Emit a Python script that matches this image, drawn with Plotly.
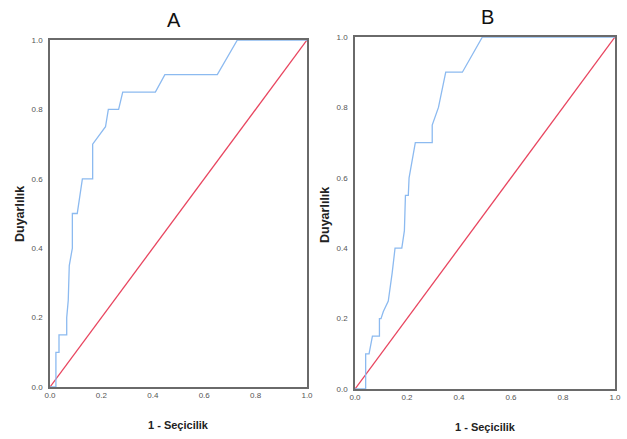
import plotly.graph_objects as go

# Panel A ROC curve (1 - specificity, sensitivity)
a_fpr = [0.0, 0.023, 0.023, 0.035, 0.035, 0.065, 0.065, 0.071, 0.075, 0.087, 0.087, 0.106,
         0.126, 0.166, 0.166, 0.216, 0.227, 0.267, 0.283, 0.41, 0.447, 0.651, 0.729, 1.0]
a_tpr = [0.0, 0.0, 0.1, 0.1, 0.15, 0.15, 0.2, 0.25, 0.35, 0.4, 0.5, 0.5,
         0.6, 0.6, 0.7, 0.75, 0.8, 0.8, 0.85, 0.85, 0.9, 0.9, 1.0, 1.0]

# Panel B ROC curve
b_fpr = [0.0, 0.041, 0.041, 0.054, 0.067, 0.094, 0.094, 0.1, 0.109, 0.128, 0.143, 0.154,
         0.18, 0.19, 0.192, 0.194, 0.205, 0.208, 0.232, 0.297, 0.297, 0.321, 0.349, 0.413, 0.49, 1.0]
b_tpr = [0.0, 0.0, 0.1, 0.1, 0.15, 0.15, 0.2, 0.2, 0.22, 0.25, 0.33, 0.4,
         0.4, 0.45, 0.5, 0.55, 0.55, 0.6, 0.7, 0.7, 0.75, 0.8, 0.9, 0.9, 1.0, 1.0]

ref_line = [0.0, 1.0]
tick_vals = [0.0, 0.2, 0.4, 0.6, 0.8, 1.0]
tick_text = ["0.0", "0.2", "0.4", "0.6", "0.8", "1.0"]
titles = ["A", "B"]
x_title = "1 - Seçicilik"
y_title = "Duyarlılık"

W, H = 627, 439
BLUE = "#8cbaf0"
RED = "#e8455f"
FONT = "Liberation Sans, Arial, sans-serif"

fig = go.Figure()

# reference diagonals first, ROC curves on top
fig.add_trace(go.Scatter(x=ref_line, y=ref_line, mode="lines",
                         line=dict(color=RED, width=1.3), xaxis="x", yaxis="y", showlegend=False))
fig.add_trace(go.Scatter(x=a_fpr, y=a_tpr, mode="lines",
                         line=dict(color=BLUE, width=1.3), xaxis="x", yaxis="y", showlegend=False))
fig.add_trace(go.Scatter(x=ref_line, y=ref_line, mode="lines",
                         line=dict(color=RED, width=1.3), xaxis="x2", yaxis="y2", showlegend=False))
fig.add_trace(go.Scatter(x=b_fpr, y=b_tpr, mode="lines",
                         line=dict(color=BLUE, width=1.3), xaxis="x2", yaxis="y2", showlegend=False))

# pixel boxes of the two plot areas: (left, right, top, bottom)
boxA = (50, 307, 40, 387)
boxB = (355, 615, 37, 389)


def dom(box):
    l, r, t, b = box
    return [l / W, r / W], [1 - b / H, 1 - t / H]


axis_common = dict(range=[0, 1], tickvals=tick_vals, ticktext=tick_text,
                   showgrid=False, zeroline=False, showline=True, mirror=True,
                   linecolor="#6a6a6a", linewidth=1.6, ticks="", automargin=False,
                   tickfont=dict(family=FONT, size=8, color="#555555"))

xdA, ydA = dom(boxA)
xdB, ydB = dom(boxB)
fig.update_layout(
    width=W, height=H,
    margin=dict(l=0, r=0, t=0, b=0, pad=0, autoexpand=False),
    paper_bgcolor="white", plot_bgcolor="white",
    xaxis=dict(domain=xdA, anchor="y", **axis_common),
    yaxis=dict(domain=ydA, anchor="x", ticklabelstandoff=4, **axis_common),
    xaxis2=dict(domain=xdB, anchor="y2", **axis_common),
    yaxis2=dict(domain=ydB, anchor="x2", ticklabelstandoff=4, **axis_common),
)

ann = []
for (cx, cy), t in zip([(174, 20), (487, 17)], titles):
    ann.append(dict(x=cx / W, y=1 - cy / H, xref="paper", yref="paper", text=t, showarrow=False,
                    font=dict(family=FONT, size=20, color="#111111"), xanchor="center", yanchor="middle"))
for cx, cy in [(178, 425), (485, 427)]:
    ann.append(dict(x=cx / W, y=1 - cy / H, xref="paper", yref="paper", text="<b>" + x_title + "</b>",
                    showarrow=False, font=dict(family=FONT, size=11, color="#222222"),
                    xanchor="center", yanchor="middle"))
for cx, cy in [(20, 214), (325, 215)]:
    ann.append(dict(x=cx / W, y=1 - cy / H, xref="paper", yref="paper", text="<b>" + y_title + "</b>",
                    showarrow=False, textangle=-90, font=dict(family=FONT, size=12.5, color="#222222"),
                    xanchor="center", yanchor="middle"))
fig.update_layout(annotations=ann)

fig.write_html("out.html", config={"displayModeBar": False},
               post_script="document.body.style.margin='0';document.body.style.padding='0';"
                           "document.documentElement.style.overflow='hidden';")
